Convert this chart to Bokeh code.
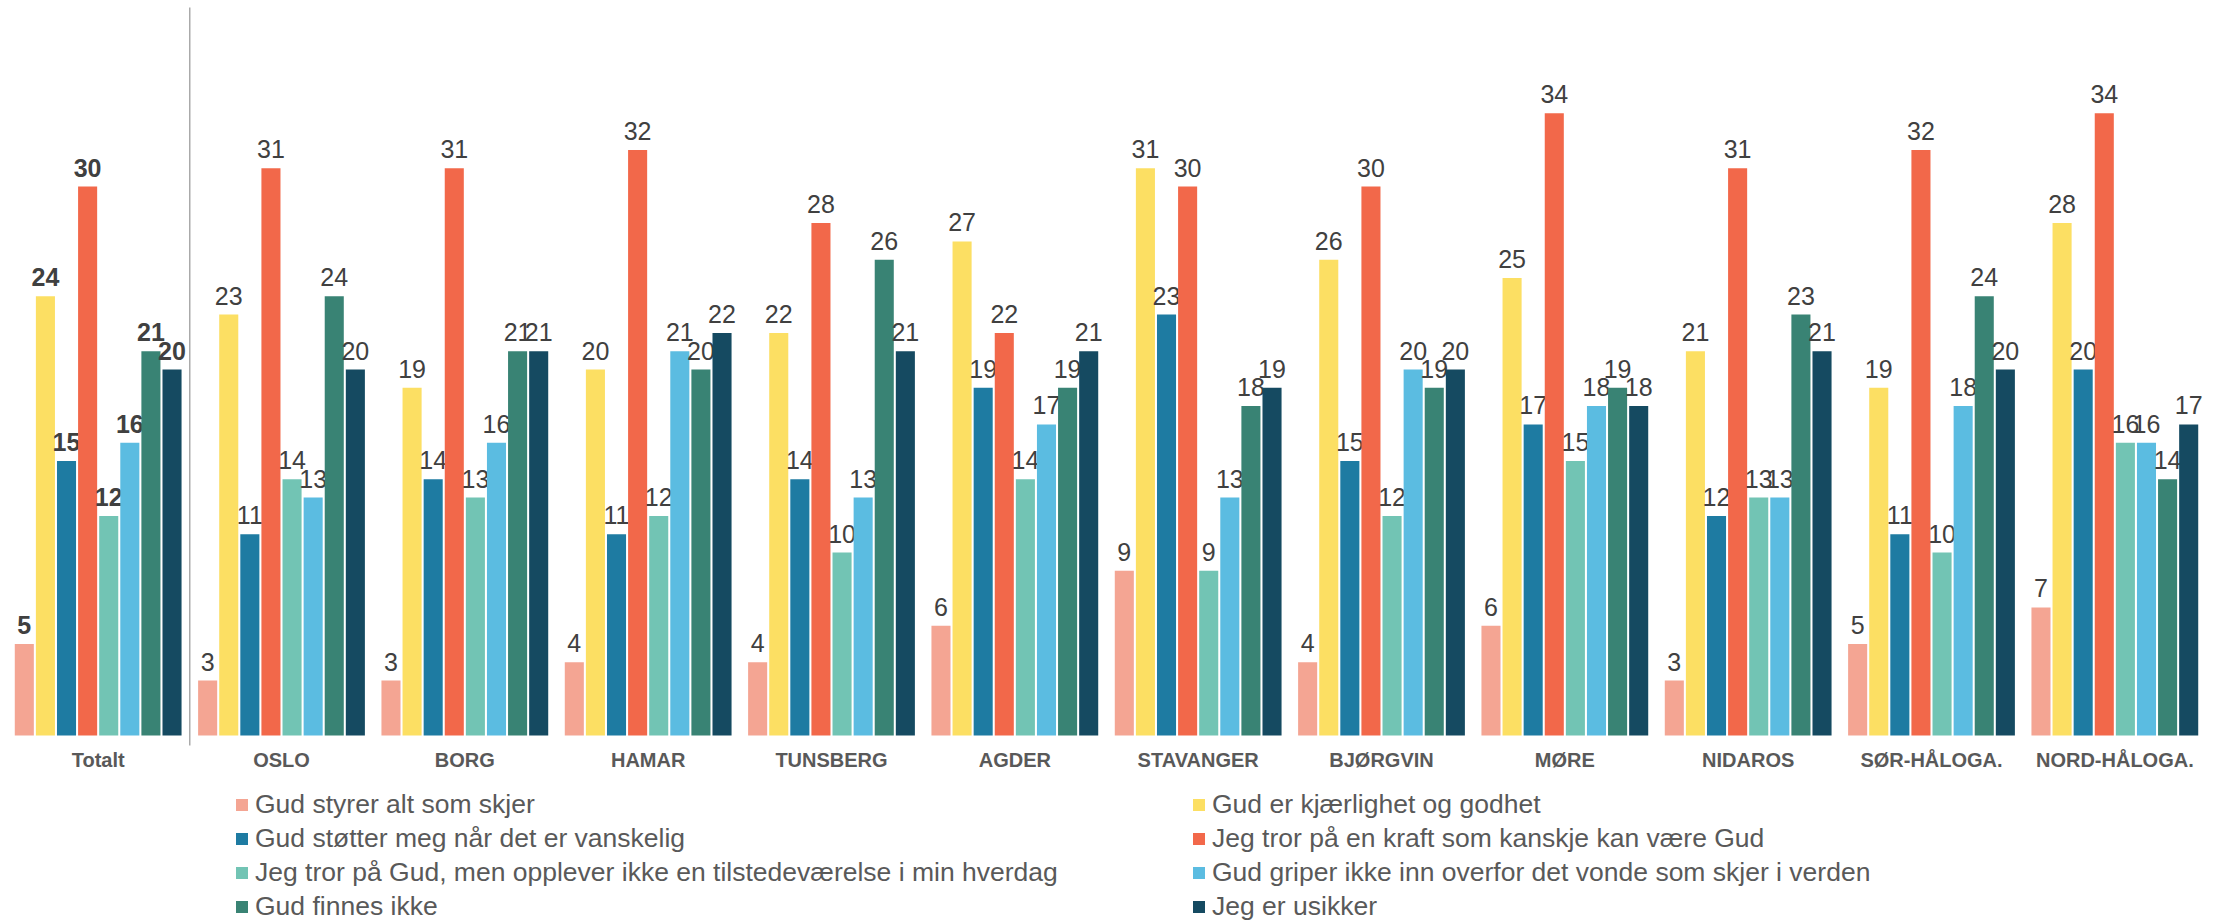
from bokeh.plotting import figure
from bokeh.models import ColumnDataSource, Legend, LegendItem, Range1d
from bokeh.transform import dodge
from bokeh.core.properties import value, field
from bokeh.embed import file_html
from bokeh.resources import INLINE

categories = ["Totalt", "OSLO", "BORG", "HAMAR", "TUNSBERG", "AGDER", "STAVANGER",
              "BJØRGVIN", "MØRE", "NIDAROS", "SØR-HÅLOGA.", "NORD-HÅLOGA."]

series_names = [
    "Gud styrer alt som skjer",
    "Gud er kjærlighet og godhet",
    "Gud støtter meg når det er vanskelig",
    "Jeg tror på en kraft som kanskje kan være Gud",
    "Jeg tror på Gud, men opplever ikke en tilstedeværelse i min hverdag",
    "Gud griper ikke inn overfor det vonde som skjer i verden",
    "Gud finnes ikke",
    "Jeg er usikker",
]

gud_styrer      = [5, 3, 3, 4, 4, 6, 9, 4, 6, 3, 5, 7]
gud_kjaerlighet = [24, 23, 19, 20, 22, 27, 31, 26, 25, 21, 19, 28]
gud_stotter     = [15, 11, 14, 11, 14, 19, 23, 15, 17, 12, 11, 20]
kraft           = [30, 31, 31, 32, 28, 22, 30, 30, 34, 31, 32, 34]
tror_ikke_tilst = [12, 14, 13, 12, 10, 14, 9, 12, 15, 13, 10, 16]
griper_ikke     = [16, 13, 16, 21, 13, 17, 13, 20, 18, 13, 18, 16]
finnes_ikke     = [21, 24, 21, 20, 26, 19, 18, 19, 19, 23, 24, 14]
usikker         = [20, 20, 21, 22, 21, 21, 19, 20, 18, 21, 20, 17]

series_values = [gud_styrer, gud_kjaerlighet, gud_stotter, kraft,
                 tror_ikke_tilst, griper_ikke, finnes_ikke, usikker]

colors = ["#F4A593", "#FCDF63", "#1E7BA2", "#F2684A",
          "#72C4B4", "#5BBCE1", "#398374", "#154A61"]

PX = 18.3          # pixels per unit
H = 920
BASE = 735         # baseline, pixels from top
p = figure(x_range=categories, y_range=Range1d(-(H - BASE) / PX, BASE / PX),
           width=2220, height=H, output_backend="svg", toolbar_location=None,
           x_axis_location=None, y_axis_location=None,
           min_border_left=6, min_border_right=14,
           min_border_top=0, min_border_bottom=0)

p.xgrid.visible = False
p.ygrid.visible = False
p.outline_line_color = None
p.background_fill_color = "white"

slot = 0.1151
bar_w = 0.104
items = []
for k, (name, vals, col) in enumerate(zip(series_names, series_values, colors)):
    src = ColumnDataSource(dict(
        cat=categories,
        val=vals,
        lab=[str(v) for v in vals],
        fs=["bold" if c == "Totalt" else "normal" for c in categories],
    ))
    off = (k - 3.5) * slot
    r = p.vbar(x=dodge("cat", off, range=p.x_range), top="val", bottom=0,
               width=bar_w, source=src, fill_color=col, line_color=None)
    p.text(x=dodge("cat", off, range=p.x_range), y="val", text="lab", source=src,
           text_align="center", text_baseline="alphabetic", y_offset=-19,
           text_font=value("Liberation Sans"), text_font_size=value("25px"),
           text_font_style=field("fs"), text_color="#404040")
    items.append(LegendItem(label=name, renderers=[r]))

# category labels under the groups
cat_src = ColumnDataSource(dict(cat=categories))
p.text(x="cat", y=-24 / PX, text="cat", source=cat_src,
       text_align="center", text_baseline="middle",
       text_font=value("Liberation Sans"), text_font_size=value("20px"),
       text_font_style="bold", text_color="#595959")

# separator between "Totalt" and the dioceses
sep_src = ColumnDataSource(dict(cat=[categories[1]]))
p.segment(x0=dodge("cat", -0.5, range=p.x_range), y0=(BASE - 7) / PX,
          x1=dodge("cat", -0.5, range=p.x_range), y1=-10 / PX,
          source=sep_src, line_color="#808080", line_width=1)

legend = Legend(items=items, location=(228, -2), orientation="horizontal", ncols=2,
                label_text_font="Liberation Sans", label_text_font_size="26.5px",
                label_text_color="#595959", glyph_width=15, glyph_height=15,
                label_standoff=6, label_width=933, label_height=30, spacing=3,
                padding=0, margin=0, border_line_color=None,
                background_fill_alpha=0)
p.add_layout(legend)

open("out.html", "w").write(file_html(p, INLINE))
